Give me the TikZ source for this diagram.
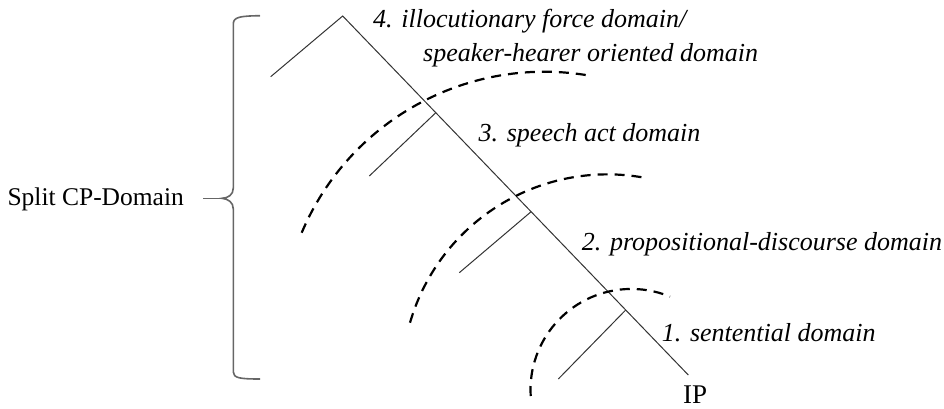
\documentclass[tikz,border=0pt]{standalone}
\usepackage{fontspec}
\setmainfont{Liberation Serif}
\begin{document}
\begin{tikzpicture}[x=1pt,y=1pt,
  tree/.style={draw=black!80, line width=1pt},
  domarc/.style={draw=black, line width=2.2pt, dash pattern=on 10pt off 7pt},
  lbl/.style={inner sep=0pt, anchor=base west, font=\fontsize{26}{30}\selectfont\itshape},
  plainlbl/.style={inner sep=0pt, anchor=base west},
  bracestyle/.style={draw=black!60, line width=1.6pt}]
\useasboundingbox (0,0) rectangle (944,-409);
% tree
\coordinate (apex) at (342.7,-16);
\coordinate (bot) at (688.3,-375);
\coordinate (lft) at (270.7,-76.7);
\coordinate (j3) at (435.8,-112.7);
\coordinate (j2) at (531.1,-211.7);
\coordinate (j1) at (625.7,-310);
\coordinate (e3) at (369.3,-176);
\coordinate (e2) at (459.3,-272.7);
\coordinate (e1) at (558.3,-379);
\draw[tree] (lft) -- (apex) -- (bot);
\draw[tree] (j3) -- (e3);
\draw[tree] (j2) -- (e2);
\draw[tree] (j1) -- (e1);
% dashed domain arcs
\draw[domarc] (301.7,-232.7) arc[start angle=157.1, end angle=80.9, radius=263.5];
\draw[domarc] (410,-322.7) arc[start angle=163.8, end angle=79.0, radius=205.7];
\draw[domarc] (530.7,-396) arc[start angle=183.5, end angle=67.5, radius=100.9];
% labels
\node[lbl] (t4a) at (373,-28) {4. illocutionary force domain/};
\node[lbl] (t4b) at (423,-62) {speaker-hearer oriented domain};
\node[lbl] (t3) at (478.5,-141.7) {3. speech act domain};
\node[lbl] (t2) at (581.7,-250) {2. propositional-discourse domain};
\node[lbl] (t1) at (661.7,-341.7) {1. sentential domain};
\node[plainlbl, font=\fontsize{27}{32}\selectfont] (ip) at (683,-403) {IP};
\node[plainlbl, font=\fontsize{25.5}{30}\selectfont] (split) at (7.3,-205) {Split CP-Domain};
% brace
\coordinate (cusp) at (222,-198.3);
\coordinate (tick) at (203,-198.3);
\draw[bracestyle] (260,-15.7) .. controls (240,-16) and (233.3,-17) .. (233.3,-24)
  -- (233.3,-188) .. controls (233.3,-195) and (228,-198) .. (cusp)
  .. controls (228,-199) and (233.3,-202) .. (233.3,-209)
  -- (233.3,-372) .. controls (233.3,-378) and (240,-379) .. (260,-379);
\draw[bracestyle] (tick) -- (cusp);
\end{tikzpicture}
\end{document}
